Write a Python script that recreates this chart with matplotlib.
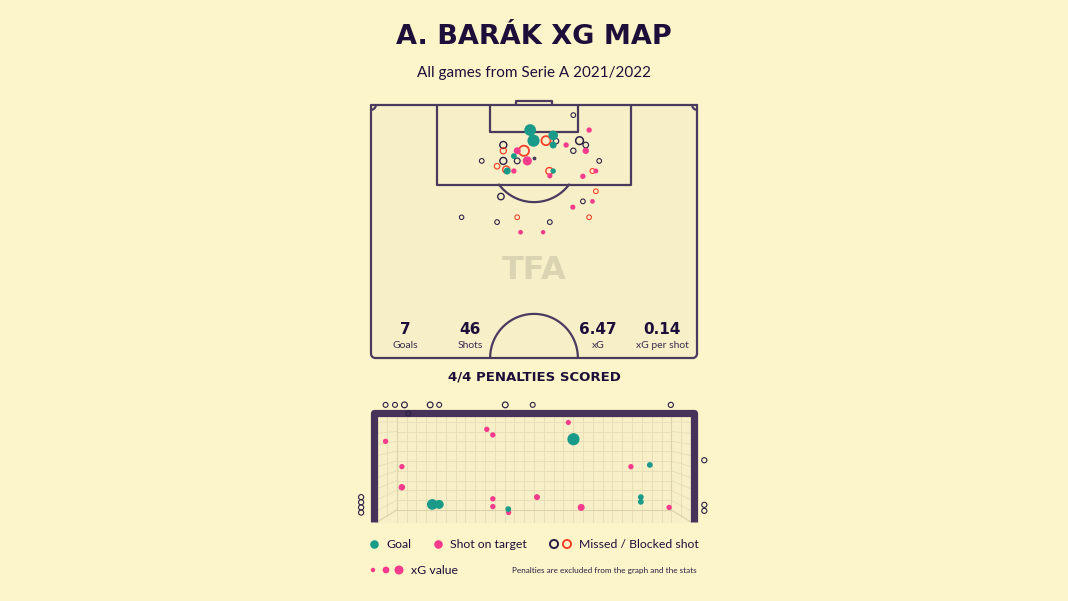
import matplotlib
matplotlib.use("Agg")
import matplotlib.pyplot as plt
import numpy as np

W, H = 1068, 601
BG = "#fcf5c9"
PITCH = "#f7efc8"
LINE = "#4a3a5e"
INK = "#1d0e3a"
TEAL = "#1a9a88"
PINK = "#f43b8c"
RED = "#f5402a"
DARK = "#2a1e45"
NET = "#e6ddb6"
FONT = ["Lato", "DejaVu Sans"]
HEAVY = ["DejaVu Sans"]

# ── shots on the pitch (metres: x across, y out from the goal line) ──
shot_x = [42.2, 33.2, 33.9, 38.0, 38.0, 36.5, 38.6, 45.5, 43.5, 44.8,
          42.2, 44.8, 40.7, 46.9, 46.2, 44.2, 47.6, 27.6, 27.6, 27.6,
          31.9, 30.5, 29.8, 30.5, 32.6, 23.1, 26.3, 28.4, 28.2, 29.8,
          37.2, 38.0, 37.3, 46.9, 27.1, 46.2, 44.2, 42.1, 18.9, 30.5,
          45.5, 26.3, 37.3, 31.2, 35.9]
shot_y = [2.1, 5.2, 7.4, 6.3, 8.3, 7.4, 7.5, 5.2, 7.4, 8.3,
          9.5, 9.5, 8.3, 13.7, 13.7, 14.8, 11.6, 8.3, 9.5, 11.6,
          9.5, 9.5, 10.6, 11.6, 11.6, 11.6, 12.7, 13.7, 13.4, 13.7,
          13.7, 13.7, 14.7, 17.9, 19.0, 20.0, 20.0, 21.2, 23.3, 23.3,
          23.3, 24.3, 24.3, 26.4, 26.4]
shot_xg = [0.03, 0.55, 0.60, 0.35, 0.15, 0.30, 0.06, 0.06, 0.20, 0.07,
           0.06, 0.12, 0.06, 0.04, 0.04, 0.06, 0.03, 0.15, 0.10, 0.15,
           0.40, 0.15, 0.08, 0.08, 0.30, 0.03, 0.07, 0.15, 0.15, 0.06,
           0.15, 0.06, 0.05, 0.03, 0.12, 0.03, 0.03, 0.05, 0.02, 0.03,
           0.03, 0.03, 0.03, 0.03, 0.02]
shot_kind = ["missed", "goal", "goal", "goal", "goal", "blocked", "missed", "target", "missed", "missed",
             "missed", "target", "target", "target", "blocked", "target", "missed", "missed", "blocked", "missed",
             "blocked", "target", "goal", "missed", "target", "missed", "blocked", "goal", "blocked", "target",
             "blocked", "goal", "target", "blocked", "missed", "target", "missed", "target", "missed", "blocked",
             "blocked", "missed", "missed", "target", "target"]

# ── shots seen from behind the goal (metres: x from centre, z height) ──
gm_x = [0.92, -2.37, -2.21, -0.60, 2.70, 2.49, 2.49,
        0.80, -1.10, -0.96, -3.46, -3.08, 2.26, -3.08, -0.96, -0.96, -0.59, 0.07, 1.10, 3.15,
        -3.46, -3.24, -3.02, -2.42, -2.21, -2.93, -0.67, -0.03, 3.19,
        3.97, 3.97, 3.97, -4.03, -4.03, -4.03, -4.03]
gm_z = [1.93, 0.41, 0.41, 0.30, 1.33, 0.58, 0.47,
        2.32, 2.16, 2.03, 1.88, 1.29, 1.29, 0.81, 0.54, 0.36, 0.22, 0.58, 0.34, 0.34,
        2.73, 2.73, 2.73, 2.73, 2.73, 2.53, 2.73, 2.73, 2.73,
        1.44, 0.40, 0.26, 0.58, 0.46, 0.34, 0.22]
gm_xg = [0.60, 0.45, 0.30, 0.08, 0.08, 0.08, 0.08,
         0.05, 0.06, 0.06, 0.06, 0.06, 0.06, 0.12, 0.06, 0.06, 0.05, 0.09, 0.15, 0.06,
         0.04, 0.04, 0.08, 0.08, 0.04, 0.04, 0.08, 0.04, 0.05,
         0.05, 0.05, 0.05, 0.05, 0.05, 0.05, 0.05]
gm_kind = ["goal"] * 7 + ["target"] * 13 + ["missed"] * 16

stat_values = ["7", "46", "6.47", "0.14"]
stat_labels = ["Goals", "Shots", "xG", "xG per shot"]


def size_of(xg):
    return 8 + 115 * np.asarray(xg)


def draw_shots(ax, xs, ys, xgs, kinds):
    xs, ys, xgs = np.asarray(xs), np.asarray(ys), np.asarray(xgs)
    kinds = np.asarray(kinds)
    # hollow first, filled on top
    for kind, edge in [("missed", DARK), ("blocked", RED)]:
        m = kinds == kind
        ax.scatter(xs[m], ys[m], s=size_of(xgs[m]), facecolors="none",
                   edgecolors=edge, linewidths=0.7 + 2 * np.minimum(xgs[m], 0.3), zorder=5)
    for kind, col in [("target", PINK), ("goal", TEAL)]:
        m = kinds == kind
        ax.scatter(xs[m], ys[m], s=size_of(xgs[m]), c=col, linewidths=0, zorder=6)


def axes_px(fig, x0, y0, x1, y1):
    return fig.add_axes([x0 / W, 1 - y1 / H, (x1 - x0) / W, (y1 - y0) / H])


fig = plt.figure(figsize=(W / 100, H / 100), dpi=100, facecolor=BG)

# ── pitch ──
SX, SY = 326 / 68, 253 / 52.5
PX0, PY0 = 371, 105
ax = axes_px(fig, PX0 - 10, PY0 - 10, PX0 + 326 + 10, PY0 + 253 + 10)
ax.set_xlim(-10 / SX, 68 + 10 / SX)
ax.set_ylim(52.5 + 10 / SY, -10 / SY)
ax.axis("off")

lk = dict(color=LINE, lw=1.6, solid_capstyle="round", zorder=2)
r = 0.9
t = np.linspace(0, np.pi / 2, 20)
pts_x = [68, 0]
pts_y = [0, 0]
for a in np.linspace(np.pi, np.pi / 2, 20):
    pts_x.append(r + r * np.cos(a))
    pts_y.append(52.5 - r + r * np.sin(a))
for a in np.linspace(np.pi / 2, 0, 20):
    pts_x.append(68 - r + r * np.cos(a))
    pts_y.append(52.5 - r + r * np.sin(a))
pts_x += [68, 68]
pts_y += [52.5 - r, 0]
ax.fill(pts_x, pts_y, color=PITCH, zorder=0)
ax.plot(pts_x, pts_y, **lk)

ax.plot([13.84, 13.84, 54.16, 54.16], [0, 16.5, 16.5, 0], **lk)
ax.plot([24.84, 24.84, 43.16, 43.16], [0, 5.5, 5.5, 0], **lk)
ax.plot([30.34, 30.34, 37.66, 37.66], [0, -0.8, -0.8, 0], **lk)
a = np.linspace(np.arcsin(5.5 / 9.15), np.pi - np.arcsin(5.5 / 9.15), 60)
ax.plot(34 + 9.15 * np.cos(a), 11 + 9.15 * np.sin(a), **lk)
a = np.linspace(0, np.pi, 100)
ax.plot(34 + 9.15 * np.cos(a), 52.5 - 9.15 * np.sin(a), **lk)
ax.plot(1.0 * np.cos(t), 1.0 * np.sin(t), **lk)
ax.plot(68 - 1.0 * np.cos(t), 1.0 * np.sin(t), **lk)
ax.scatter([34], [11], s=3, c=LINE, zorder=2)
ax.text(34, 34.3, "TFA", color="#dbd4b3", fontsize=23, fontweight="bold",
        family=HEAVY, ha="center", va="center", zorder=1)

draw_shots(ax, shot_x, shot_y, shot_xg, shot_kind)

# ── goal mouth view ──
GS = 42.9
GCX, GZ0 = 534, 522
gx = axes_px(fig, 345, 390, 725, 535)
gx.set_xlim((345 - GCX) / GS, (725 - GCX) / GS)
gx.set_ylim((GZ0 - 535) / GS, (GZ0 - 390) / GS)
gx.axis("off")

HW, TOP, BX, BZ = 3.66, 2.44, 3.2, 0.28
gx.fill([-HW, -HW, HW, HW], [0, TOP, TOP, 0], color=PITCH, zorder=0)
for xv in np.arange(-BX, BX + 0.01, 0.2286):
    gx.plot([xv, xv], [0, TOP], color=NET, lw=0.6, zorder=1)
for zv in np.arange(BZ, TOP, 0.2286):
    gx.plot([-BX, BX], [zv, zv], color=NET, lw=0.6, zorder=1)
    f = (zv - BZ) / (TOP - BZ) * TOP
    gx.plot([-HW, -BX], [f, zv], color=NET, lw=0.6, zorder=1)
    gx.plot([HW, BX], [f, zv], color=NET, lw=0.6, zorder=1)
for xv in [-(HW + BX) / 2, (HW + BX) / 2]:
    gx.plot([xv, xv], [0.14, TOP], color=NET, lw=0.6, zorder=1)
gx.plot([-BX, -BX, BX, BX], [TOP, BZ, BZ, TOP], color="#ddd3aa", lw=0.8, zorder=1)
gx.plot([-HW, -BX], [0, BZ], color="#ddd3aa", lw=0.8, zorder=1)
gx.plot([HW, BX], [0, BZ], color="#ddd3aa", lw=0.8, zorder=1)
gx.plot([-HW - 0.08, -HW - 0.08, HW + 0.08, HW + 0.08], [0, TOP + 0.09, TOP + 0.09, 0],
        color="#47325a", lw=5.2, solid_joinstyle="round", solid_capstyle="butt", zorder=3)

draw_shots(gx, gm_x, gm_z, gm_xg, gm_kind)

# ── texts (overlay on top, pixel coordinates) ──
tx = fig.add_axes([0, 0, 1, 1])
tx.set_xlim(0, W)
tx.set_ylim(H, 0)
tx.axis("off")
tx.set_zorder(10)

tx.text(534, 37, "A. BARÁK XG MAP", color=INK, fontsize=19.5, fontweight="bold",
        family=HEAVY, ha="center", va="center")
tx.text(534, 73, "All games from Serie A 2021/2022", color=INK, fontsize=11,
        family=FONT, ha="center", va="center")
for xp, v, lab in zip([405, 470, 598, 662], stat_values, stat_labels):
    tx.text(xp, 329, v, color=INK, fontsize=11, fontweight="bold", family=HEAVY,
            ha="center", va="center")
    tx.text(xp, 345, lab, color="#3a2d50", fontsize=7.5, family=FONT,
            ha="center", va="center")
tx.text(534, 377, "4/4 PENALTIES SCORED", color=INK, fontsize=9.5, fontweight="bold",
        family=HEAVY, ha="center", va="center")

# legend
tx.scatter([374], [544], s=38, c=TEAL, lw=0)
tx.text(386, 544, "Goal", color=INK, fontsize=8.8, family=FONT, va="center")
tx.scatter([438], [544], s=38, c=PINK, lw=0)
tx.text(450, 544, "Shot on target", color=INK, fontsize=8.8, family=FONT, va="center")
tx.scatter([554], [544], s=34, facecolors="none", edgecolors=DARK, lw=1.4)
tx.scatter([567], [544], s=34, facecolors="none", edgecolors=RED, lw=1.4)
tx.text(579, 544, "Missed / Blocked shot", color=INK, fontsize=8.8, family=FONT, va="center")
tx.scatter([373, 386, 399], [570, 570, 570], s=[10, 24, 42], c=PINK, lw=0)
tx.text(411, 570, "xG value", color=INK, fontsize=8.8, family=FONT, va="center")
tx.text(697, 571, "Penalties are excluded from the graph and the stats", color="#2a1e45",
        fontsize=5.9, family=FONT, ha="right", va="center")

fig.savefig("out.png", dpi=100, facecolor=BG)
